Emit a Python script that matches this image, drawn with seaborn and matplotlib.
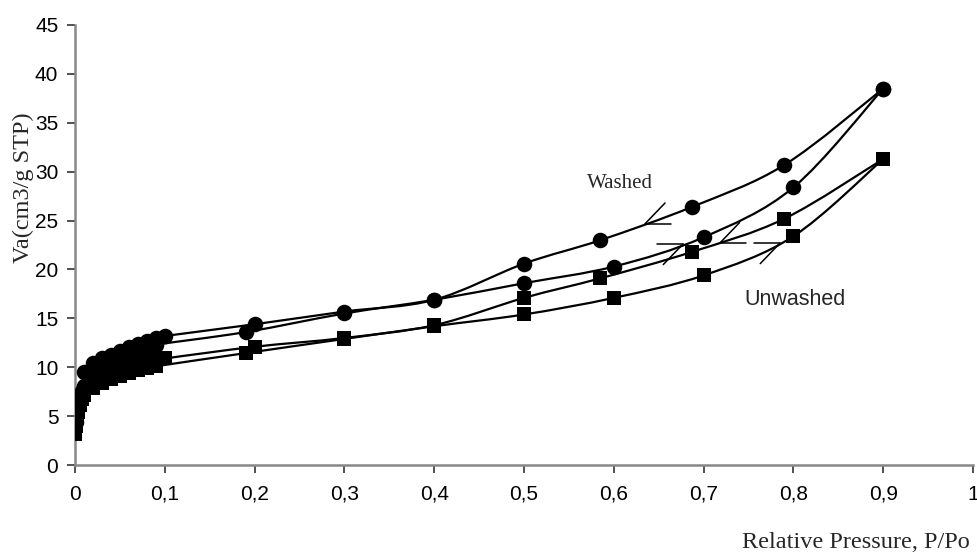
import matplotlib
matplotlib.use("Agg")
import matplotlib.pyplot as plt
from matplotlib.path import Path
from matplotlib.patches import PathPatch
import seaborn as sns
import pandas as pd

# Nitrogen isotherms: adsorption (rising P/Po) and desorption (falling P/Po) branches
washed_ads_p = [0.001, 0.003, 0.005, 0.008, 0.01, 0.02, 0.03, 0.04, 0.05, 0.06,
                0.07, 0.08, 0.09, 0.19, 0.30, 0.40, 0.50, 0.60, 0.70, 0.80, 0.90]
washed_ads_v = [4.4, 5.8, 6.7, 7.6, 8.1, 9.0, 9.7, 10.2, 10.7, 11.1,
                11.5, 11.9, 12.3, 13.6, 15.5, 16.9, 18.6, 20.3, 23.3, 28.4, 38.5]

washed_des_p = [0.90, 0.79, 0.687, 0.585, 0.50, 0.40, 0.30, 0.20, 0.10, 0.09,
                0.08, 0.07, 0.06, 0.05, 0.04, 0.03, 0.02, 0.01]
washed_des_v = [38.5, 30.7, 26.4, 23.0, 20.6, 16.9, 15.7, 14.4, 13.2, 13.0,
                12.7, 12.4, 12.1, 11.7, 11.3, 10.9, 10.4, 9.5]

unwashed_ads_p = [0.0005, 0.001, 0.002, 0.003, 0.005, 0.008, 0.01, 0.02, 0.03, 0.04,
                  0.05, 0.06, 0.07, 0.08, 0.09, 0.19, 0.30, 0.40, 0.50, 0.60,
                  0.70, 0.80, 0.90]
unwashed_ads_v = [3.2, 4.0, 4.8, 5.4, 6.1, 6.8, 7.2, 7.9, 8.4, 8.8,
                  9.1, 9.4, 9.7, 9.9, 10.1, 11.45, 12.9, 14.2, 15.4, 17.1,
                  19.4, 23.4, 31.3]

unwashed_des_p = [0.90, 0.79, 0.687, 0.585, 0.50, 0.40, 0.30, 0.20, 0.10, 0.09,
                  0.08, 0.07, 0.06, 0.05, 0.04, 0.03, 0.02, 0.01]
unwashed_des_v = [31.3, 25.2, 21.8, 19.1, 17.1, 14.3, 13.0, 12.1, 10.9, 10.7,
                  10.4, 10.1, 9.8, 9.5, 9.2, 8.8, 8.4, 7.6]

x_ticks = [0, 0.1, 0.2, 0.3, 0.4, 0.5, 0.6, 0.7, 0.8, 0.9, 1.0]
x_tick_labels = ["0", "0,1", "0,2", "0,3", "0,4", "0,5", "0,6", "0,7", "0,8", "0,9", "1"]
y_ticks = [0, 5, 10, 15, 20, 25, 30, 35, 40, 45]

# hysteresis direction arrows: (tip x, tip y, direction)
arrows = [(0.635, 24.7, "left"), (0.718, 22.7, "left"),
          (0.677, 22.6, "right"), (0.785, 22.7, "right")]


def smooth_path(xs, ys):
    """Cubic Bezier path through the points (spreadsheet-style smoothed line)."""
    pts = list(zip(xs, ys))
    n = len(pts)
    verts = [pts[0]]
    codes = [Path.MOVETO]
    for i in range(n - 1):
        p0 = pts[i - 1] if i > 0 else pts[i]
        p1 = pts[i]
        p2 = pts[i + 1]
        p3 = pts[i + 2] if i + 2 < n else pts[i + 1]
        c1 = (p1[0] + (p2[0] - p0[0]) / 6, p1[1] + (p2[1] - p0[1]) / 6)
        c2 = (p2[0] - (p3[0] - p1[0]) / 6, p2[1] - (p3[1] - p1[1]) / 6)
        verts += [c1, c2, p2]
        codes += [Path.CURVE4] * 3
    return Path(verts, codes)


sns.set_style("white")
plt.rcParams["font.family"] = ["Liberation Sans", "DejaVu Sans"]

fig = plt.figure(figsize=(9.77, 5.55), dpi=100)
ax = fig.add_axes([0.0768, 0.162, 0.9192, 0.793])

branches = [
    (washed_ads_p, washed_ads_v, "o", 125),
    (washed_des_p, washed_des_v, "o", 125),
    (unwashed_ads_p, unwashed_ads_v, "s", 100),
    (unwashed_des_p, unwashed_des_v, "s", 100),
]
for p, v, m, sz in branches:
    ax.add_patch(PathPatch(smooth_path(p, v), facecolor="none",
                           edgecolor="black", linewidth=1.6, zorder=2))
    df = pd.DataFrame({"p": p, "v": v})
    sns.scatterplot(data=df, x="p", y="v", ax=ax, marker=m, s=sz,
                    color="black", edgecolor="black", linewidth=0, zorder=3)

# arrowheads drawn as two strokes
for tx, ty, d in arrows:
    s = 1 if d == "left" else -1
    ax.plot([tx, tx + s * 0.029], [ty, ty], color="black", lw=1.1)
    ax.plot([tx, tx + s * 0.022], [ty, ty + s * 2.1], color="black", lw=1.1)

ax.text(0.607, 28.8, "Washed", family="Liberation Serif", fontsize=15,
        ha="center", va="center")
ax.text(0.802, 16.9, "Unwashed", family="Liberation Sans", fontsize=15.5,
        ha="center", va="center")

ax.set_xlim(0, 1)
ax.set_ylim(0, 45)
ax.set_xticks(x_ticks)
ax.set_xticklabels(x_tick_labels)
ax.set_yticks(y_ticks)
ax.tick_params(axis="both", direction="out", length=6, width=1.2,
               color="#333333", labelsize=15, labelcolor="black")
ax.tick_params(axis="x", pad=8, bottom=True)
ax.tick_params(axis="y", pad=6, left=True)

for side in ["top", "right"]:
    ax.spines[side].set_visible(False)
for side in ["left", "bottom"]:
    ax.spines[side].set_color("#888888")
    ax.spines[side].set_linewidth(1.8)

ax.set_xlabel("")
ax.set_ylabel("Va(cm3/g STP)", family="Liberation Serif", fontsize=17.5)
ax.yaxis.set_label_coords(-0.0457, 0.63)

fig.text(970 / 977, 1 - 543 / 555, "Relative Pressure, P/Po",
         family="Liberation Serif", fontsize=17.5, ha="right", va="center")

fig.savefig("out.png", dpi=100)
